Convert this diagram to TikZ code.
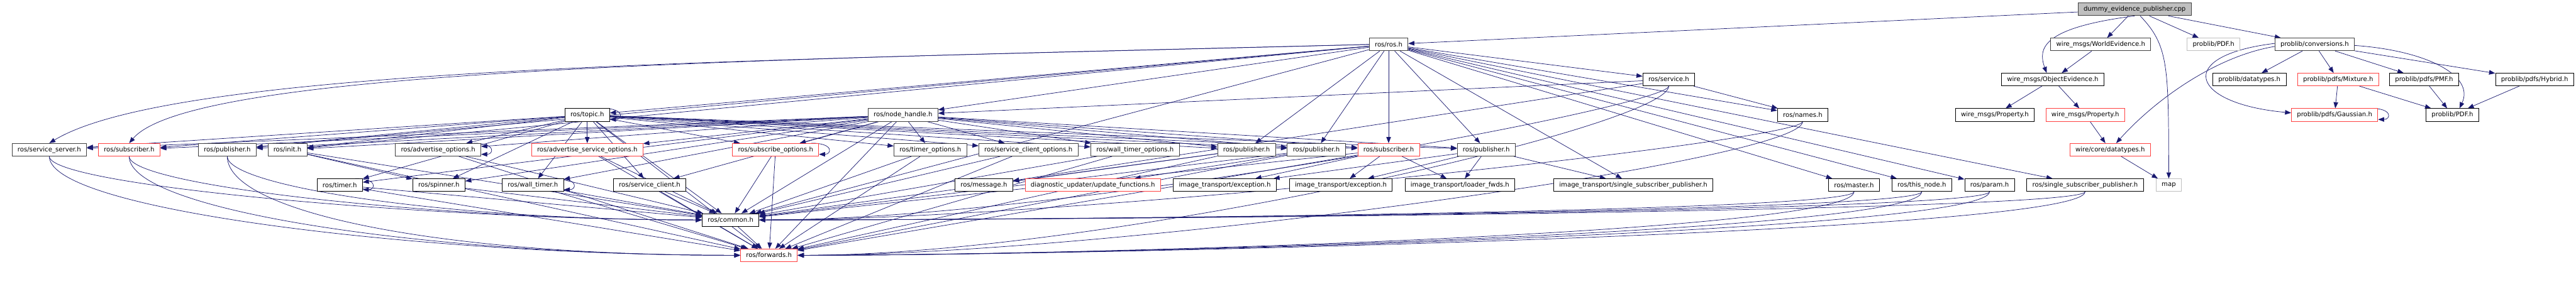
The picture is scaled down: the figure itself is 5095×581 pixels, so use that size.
\documentclass[tikz,border=0pt]{standalone}
\usepackage{fontspec}
\setmainfont{DejaVu Sans}
\usetikzlibrary{arrows.meta,positioning,backgrounds}
\definecolor{edgeblue}{HTML}{191970}
\definecolor{truncred}{HTML}{FF4040}
\definecolor{framegray}{HTML}{404040}
\definecolor{extgray}{HTML}{BFBFBF}

\begin{document}
\begin{tikzpicture}[x=1pt,y=-1pt,font=\fontsize{12.6}{15}\selectfont,
    file/.style={draw=framegray,line width=1.1pt,fill=white,inner xsep=11pt,inner ysep=0pt,minimum height=25pt},
    leaf/.style={file,draw=black},
    trunc/.style={file,draw=truncred},
    ext/.style={file,draw=extgray},
    dep/.style={draw=edgeblue,line width=0.9pt,-{Triangle[length=12pt,width=9pt]}}]
    \useasboundingbox (0,0) rectangle (5095,581);

    % rows 0-3
    \node[file,fill=extgray] (root) at (4222,18.5) {dummy\_evidence\_publisher.cpp};
    \node[file] (ros) at (2746.5,88) {ros/ros.h};
    \node[file] (wev) at (4155,88) {wire\_msgs/WorldEvidence.h};
    \node[ext] (pdfg) at (4378,88) {problib/PDF.h};
    \node[file] (conv) at (4578,88) {problib/conversions.h};
    \node[leaf] (srv) at (3300.5,157.5) {ros/service.h};
    \node[leaf] (oev) at (4060,157.5) {wire\_msgs/ObjectEvidence.h};
    \node[leaf] (pdt) at (4449,157.5) {problib/datatypes.h};
    \node[trunc] (mix) at (4624.5,157.5) {problib/pdfs/Mixture.h};
    \node[leaf] (pmf) at (4794.5,157.5) {problib/pdfs/PMF.h};
    \node[leaf] (hyb) at (5013,157.5) {problib/pdfs/Hybrid.h};
    \node[leaf] (topic) at (1161.5,227.5) {ros/topic.h};
    \node[file] (nh) at (1786,227.5) {ros/node\_handle.h};
    \node[leaf] (names) at (3565.5,227.5) {ros/names.h};
    \node[leaf] (prop) at (3945.5,227.5) {wire\_msgs/Property.h};
    \node[trunc] (propr) at (4124.5,227.5) {wire\_msgs/Property.h};
    \node[trunc] (gauss) at (4617.5,227.5) {problib/pdfs/Gaussian.h};
    \node[leaf] (pdf) at (4850.5,227.5) {problib/PDF.h};

    % row 4
    \node[file] (ssrv) at (97.5,296.5) {ros/service\_server.h};
    \node[trunc] (sub1) at (255.5,296.5) {ros/subscriber.h};
    \node[file] (pub1) at (449.5,296.5) {ros/publisher.h};
    \node[file] (init) at (568.5,296.5) {ros/init.h};
    \node[file] (advo) at (866.5,296.5) {ros/advertise\_options.h};
    \node[trunc] (advso) at (1161.5,296.5) {ros/advertise\_service\_options.h};
    \node[trunc] (subo) at (1534,296.5) {ros/subscribe\_options.h};
    \node[file] (tmo) at (1840,296.5) {ros/timer\_options.h};
    \node[file] (sco) at (2034,296.5) {ros/service\_client\_options.h};
    \node[file] (wtmo) at (2245,296.5) {ros/wall\_timer\_options.h};
    \node[file] (pub2) at (2465.5,296.5) {ros/publisher.h};
    \node[file] (pub3) at (2603.5,296.5) {ros/publisher.h};
    \node[trunc] (sub2) at (2746.5,296.5) {ros/subscriber.h};
    \node[file] (pub4) at (2939.5,296.5) {ros/publisher.h};
    \node[trunc] (wcd) at (4173.5,296.5) {wire/core/datatypes.h};

    % row 5
    \node[leaf] (timer) at (672,366.5) {ros/timer.h};
    \node[leaf] (spin) at (868,366.5) {ros/spinner.h};
    \node[leaf] (wtimer) at (1054,366.5) {ros/wall\_timer.h};
    \node[leaf] (sclient) at (1285,366.5) {ros/service\_client.h};
    \node[leaf] (msg) at (1946,366.5) {ros/message.h};
    \node[trunc] (upd) at (2161.5,366.5) {diagnostic\_updater/update\_functions.h};
    \node[leaf] (exc1) at (2422.5,366.5) {image\_transport/exception.h};
    \node[leaf] (exc2) at (2652,366.5) {image\_transport/exception.h};
    \node[leaf] (ldr) at (2887.5,366.5) {image\_transport/loader\_fwds.h};
    \node[leaf] (ssp1) at (3230.5,366.5) {image\_transport/single\_subscriber\_publisher.h};
    \node[leaf] (master) at (3667,366.5) {ros/master.h};
    \node[leaf] (thisn) at (3801,366.5) {ros/this\_node.h};
    \node[leaf] (param) at (3935,366.5) {ros/param.h};
    \node[leaf] (ssp2) at (4124,366.5) {ros/single\_subscriber\_publisher.h};
    \node[ext] (map) at (4289.5,366.5) {map};

    % rows 6-7
    \node[leaf] (common) at (1445,435.5) {ros/common.h};
    \node[trunc] (fwd) at (1521,505.5) {ros/forwards.h};

    \begin{scope}[on background layer]
    \draw[dep] (root) -- (ros);
    \draw[dep] (root.south) .. controls (4040,55) and (4030,95) .. ([xshift=-12pt]oev.north);
    \draw[dep] (root) -- (wev);
    \draw[dep] (root) -- (pdfg);
    \draw[dep] (root) -- (conv);
    \draw[dep] ([xshift=11pt]root.south) .. controls (4289,90) and (4289,130) .. (map.north);
    \draw[dep] (wev) -- (oev);
    \draw[dep] (oev) -- (prop);
    \draw[dep] (oev) -- (propr);
    \draw[dep] (propr) -- (wcd);
    \draw[dep] (wcd) -- (map);
    \draw[dep] ([yshift=-4pt]conv.west) .. controls (4380,112) and (4260,200) .. ([xshift=12pt]wcd.north);
    \draw[dep] ([yshift=2pt]conv.west) .. controls (4300,110) and (4330,205) .. ([yshift=4pt]gauss.west);
    \foreach \t in {pdt,mix,pmf,hyb}
      \draw[dep] (conv) -- (\t);
    \draw[dep] ([yshift=-2pt]conv.east) .. controls (4800,100) and (4895,150) .. ([xshift=14pt]pdf.north);
    \draw[dep] (mix) -- (gauss);
    \draw[dep] (mix) -- (pdf);
    \draw[dep] (pmf) -- (pdf);
    \draw[dep] (hyb) -- (pdf);

    \draw[dep] (ros.west) .. controls (1500,120) and (350,130) .. (ssrv.north);
    \draw[dep] (ros.west) .. controls (1500,118) and (380,135) .. (sub1.north);
    \foreach \t in {pub1,init,topic,nh,pub2,pub3,sub2,pub4,ssp1,srv,names,master,thisn,param,ssp2,common}
      \draw[dep] (ros) -- (\t);

    \draw[dep] (srv) -- (nh);
    \draw[dep] (srv) -- (names);
    \draw[dep] (srv) -- (msg);
    \foreach \s in {srv,names,master,thisn,param,ssp2} {
      \draw[dep] (\s.south) .. controls +(0,40) and +(600,0) .. (common.east);
      \draw[dep] (\s.south) .. controls +(0,80) and +(600,0) .. (fwd.east);
    }

    \foreach \t in {ssrv,sub1,pub1,init,advo,advso,subo,tmo,sco,wtmo,pub2,pub3,sub2,pub4,timer,spin,wtimer,sclient,common,fwd} {
      \draw[dep] (nh) -- (\t);
      \draw[dep] (topic) -- (\t);
    }

    \foreach \s in {ssrv,sub1,pub1} {
      \draw[dep] (\s.south) .. controls +(0,60) and +(-500,0) .. (common.west);
      \draw[dep] (\s.south) .. controls +(0,110) and +(-600,0) .. (fwd.west);
    }
    \foreach \s in {init,advo,advso,subo,tmo,sco,wtmo,pub2,pub3,sub2,timer,wtimer,sclient} {
      \draw[dep] (\s) -- (common);
      \draw[dep] (\s) -- (fwd);
    }
    \draw[dep] (spin) -- (common);
    \draw[dep] (init) -- (spin);
    \draw[dep] (common) -- (fwd);
    \draw[dep] (pub2) -- (msg);
    \draw[dep] (pub3) -- (upd);
    \foreach \t in {exc1,exc2,ldr}
      \draw[dep] (sub2) -- (\t);
    \foreach \t in {exc1,exc2,ldr,ssp1}
      \draw[dep] (pub4) -- (\t);

    \foreach \n in {topic,advo,subo,timer,wtimer,gauss}
      \draw[dep] ([xshift=-15pt]\n.north east) .. controls +(45,0) and +(25,0) .. ([yshift=4pt]\n.south east);
    \end{scope}
\end{tikzpicture}
\end{document}
